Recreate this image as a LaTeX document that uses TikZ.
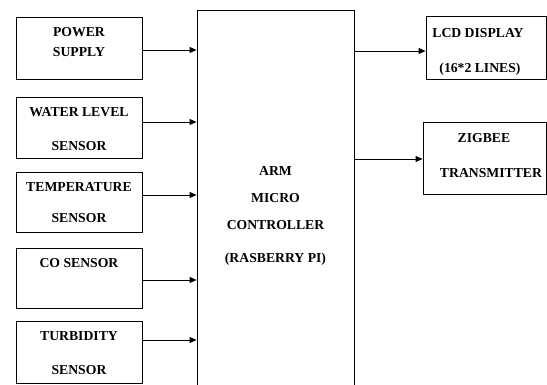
\documentclass[tikz,border=0pt]{standalone}
\usepackage{fontspec}
\setmainfont{Liberation Serif}
\usetikzlibrary{arrows.meta}
\begin{document}
\begin{tikzpicture}[x=1pt,y=-1pt,
  blk/.style={draw=black,line width=0.9pt,rectangle,inner sep=0pt},
  lbl/.style={font=\fontsize{13.7}{15}\selectfont\bfseries,inner sep=0pt,text height=9.5pt,text depth=0pt,anchor=center},
  arr/.style={line width=0.9pt,-{Triangle[length=7pt,width=6pt]}}]
\useasboundingbox (0,0) rectangle (547,385);
\clip (0,0) rectangle (547,385);
% left boxes
\node[blk,minimum width=126pt,minimum height=62pt] (pw) at (79,48) {};
\node[blk,minimum width=126pt,minimum height=61pt] (wl) at (79,127.5) {};
\node[blk,minimum width=126pt,minimum height=60pt] (tp) at (79,202) {};
\node[blk,minimum width=126pt,minimum height=60pt] (co) at (79,278) {};
\node[blk,minimum width=126pt,minimum height=62pt] (tb) at (79,352) {};
% centre
\node[blk,minimum width=157pt,minimum height=390pt] (mc) at (275.5,205) {};
% right boxes
\node[blk,minimum width=120.5pt,minimum height=63pt] (lcd) at (486.25,47.5) {};
\node[blk,minimum width=123.5pt,minimum height=72pt] (zb) at (484.75,158) {};
% texts
\node[lbl] (t1) at (79,32) {POWER};
\node[lbl] (t2) at (79,52) {SUPPLY};
\node[lbl] (t3) at (79,112) {WATER LEVEL};
\node[lbl] (t4) at (79,146) {SENSOR};
\node[lbl] (t5) at (79,187) {TEMPERATURE};
\node[lbl] (t6) at (79,218) {SENSOR};
\node[lbl] (t7) at (79,263) {CO SENSOR};
\node[lbl] (t8) at (79,336) {TURBIDITY};
\node[lbl] (t9) at (79,370) {SENSOR};
\node[lbl] (c1) at (275.5,171) {ARM};
\node[lbl] (c2) at (275.5,197.5) {MICRO};
\node[lbl] (c3) at (275.5,224.5) {CONTROLLER};
\node[lbl] (c4) at (275.5,258) {(RASBERRY PI)};
\node[lbl] (r1) at (478,33) {LCD DISPLAY};
\node[lbl] (r2) at (480,68) {(16*2 LINES)};
\node[lbl] (r3) at (484,137.5) {ZIGBEE};
\node[lbl] (r4) at (491,173) {TRANSMITTER};
% arrows
\draw[arr] ([yshift=-2pt]pw.east) -- ([yshift=-2pt]pw.east -| mc.west);
\draw[arr] ([yshift=5.5pt]wl.east) -- ([yshift=5.5pt]wl.east -| mc.west);
\draw[arr] ([yshift=7pt]tp.east) -- ([yshift=7pt]tp.east -| mc.west);
\draw[arr] ([yshift=-2pt]co.east) -- ([yshift=-2pt]co.east -| mc.west);
\draw[arr] ([yshift=12pt]tb.east) -- ([yshift=12pt]tb.east -| mc.west);
\draw[arr] ([yshift=-3.5pt]lcd.west -| mc.east) -- ([yshift=-3.5pt]lcd.west);
\draw[arr] ([yshift=-1pt]zb.west -| mc.east) -- ([yshift=-1pt]zb.west);
\end{tikzpicture}
\end{document}
